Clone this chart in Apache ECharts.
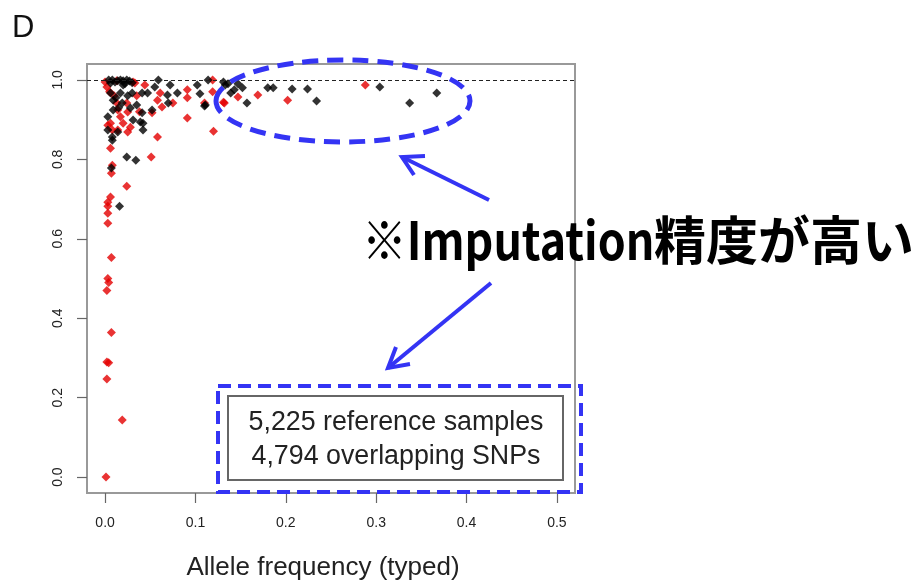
<!DOCTYPE html>
<html>
<head>
<meta charset="utf-8">
<script src="https://cdn.jsdelivr.net/npm/echarts@6/dist/echarts.min.js"></script>
<style>
  html, body { margin: 0; padding: 0; background: #fff; }
  #chart { width: 917px; height: 583px; }
</style>
</head>
<body>
<div id="chart"></div>
<script>
// Tick positions
const xTicks = [0, 0.1, 0.2, 0.3, 0.4, 0.5];
const yTicks = [0, 0.2, 0.4, 0.6, 0.8, 1.0];

// Imputation accuracy vs allele frequency (typed), two SNP groups
const redPoints = [
  [0.000,0.995],[0.013,0.998],[0.031,0.995],[0.119,1.000],[0.044,0.987],[0.033,0.992],[0.091,0.975],
  [0.005,0.970],[0.002,0.982],[0.010,0.960],[0.035,0.960],[0.061,0.967],
  [0.288,0.987],[0.119,0.970],[0.147,0.957],[0.169,0.962],[0.202,0.949],[0.132,0.942],[0.110,0.942],[0.131,0.944],
  [0.058,0.949],[0.091,0.955],[0.013,0.942],[0.024,0.942],[0.075,0.942],[0.063,0.932],[0.014,0.924],
  [0.025,0.919],[0.052,0.917],[0.038,0.920],
  [0.017,0.907],[0.020,0.891],[0.028,0.881],[0.091,0.904],[0.006,0.891],
  [0.003,0.886],[0.008,0.874],[0.014,0.874],[0.025,0.869],[0.120,0.871],
  [0.058,0.856],[0.006,0.828],[0.051,0.806],[0.008,0.785],[0.007,0.765],[0.024,0.732],[0.006,0.705],
  [0.003,0.692],[0.003,0.682],[0.003,0.664],[0.003,0.639],[0.007,0.553],[0.003,0.500],[0.004,0.490],
  [0.002,0.470],[0.007,0.364],[0.002,0.290],[0.004,0.288],[0.002,0.247],[0.019,0.144],[0.001,0.000]
];
const blackPoints = [
  [0.004,1.000],[0.008,1.000],[0.014,0.998],[0.017,1.000],[0.020,0.998],[0.024,1.000],[0.027,0.997],
  [0.006,0.992],[0.011,0.995],[0.022,0.990],[0.030,0.993],[0.059,1.000],[0.114,1.000],[0.131,0.995],
  [0.020,0.987],[0.055,0.982],[0.072,0.987],[0.102,0.987],[0.133,0.987],[0.136,0.990],[0.147,0.990],[0.143,0.975],
  [0.152,0.980],[0.180,0.980],[0.186,0.980],[0.207,0.977],[0.224,0.977],[0.304,0.982],[0.367,0.967],
  [0.337,0.942],[0.234,0.947],[0.157,0.942],[0.139,0.967],[0.105,0.965],[0.110,0.934],
  [0.006,0.967],[0.017,0.967],[0.030,0.967],[0.041,0.967],[0.047,0.967],[0.069,0.962],[0.080,0.967],
  [0.012,0.955],[0.025,0.960],
  [0.009,0.949],[0.019,0.942],[0.035,0.937],[0.070,0.942],[0.111,0.937],[0.052,0.924],[0.015,0.930],
  [0.009,0.924],[0.028,0.929],[0.041,0.917],
  [0.003,0.907],[0.031,0.899],[0.039,0.894],[0.042,0.891],
  [0.042,0.874],[0.003,0.874],[0.014,0.869],
  [0.008,0.856],[0.008,0.848],[0.024,0.806],[0.034,0.798],[0.007,0.778],[0.016,0.682]
];

const panelLetter = 'D';
const xTitle = 'Allele frequency (typed)';
const infoLines = ['5,225 reference samples', '4,794 overlapping SNPs'];
const calloutText = '※Imputation';
const calloutTextJa = '精度が高い';

const BLUE = '#3434f4';
const FONT = '"Liberation Sans", Arial, Helvetica, sans-serif';
const JFONT = '"Noto Sans CJK JP", "Noto Sans", sans-serif';

const chart = echarts.init(document.getElementById('chart'), null, { renderer: 'canvas' });

function arrow(tail, tip, head1, head2) {
  return [
    { type: 'line', shape: { x1: tail[0], y1: tail[1], x2: tip[0], y2: tip[1] },
      style: { stroke: BLUE, lineWidth: 4, lineCap: 'butt' }, z: 20 },
    { type: 'polyline', shape: { points: [head1, tip, head2] },
      style: { stroke: BLUE, lineWidth: 4, fill: null, lineJoin: 'miter' }, z: 20 }
  ];
}

const option = {
  animation: false,
  backgroundColor: '#fff',
  grid: {
    left: 87, right: 342, top: 64, bottom: 90,
    show: true, borderColor: '#999', borderWidth: 2, backgroundColor: 'transparent'
  },
  xAxis: {
    type: 'value', min: -0.02, max: 0.52,
    axisLine: { show: false, onZero: false },
    splitLine: { show: false },
    axisTick: { show: true, customValues: xTicks, length: 10, lineStyle: { color: '#666', width: 1.2 } },
    axisLabel: {
      customValues: xTicks, margin: 23, color: '#222', fontFamily: FONT, fontSize: 14,
      formatter: v => v.toFixed(1)
    }
  },
  yAxis: {
    type: 'value', min: -0.04, max: 1.04,
    axisLine: { show: false, onZero: false },
    splitLine: { show: false },
    axisTick: { show: true, customValues: yTicks, length: 10, lineStyle: { color: '#666', width: 1.2 } },
    axisLabel: {
      customValues: yTicks, margin: 22, rotate: 90, color: '#222', fontFamily: FONT, fontSize: 14,
      formatter: v => v.toFixed(1)
    }
  },
  series: [
    {
      type: 'scatter', data: redPoints, symbol: 'diamond', symbolSize: 9,
      itemStyle: { color: '#e30000' }, z: 3,
      markLine: {
        silent: true, symbol: 'none', label: { show: false },
        lineStyle: { color: '#222', type: [4, 3], width: 1 },
        data: [{ yAxis: 1 }]
      }
    },
    {
      type: 'scatter', data: blackPoints, symbol: 'diamond', symbolSize: 9,
      itemStyle: { color: '#000' }, z: 4
    }
  ],
  graphic: [
    { type: 'text', left: 12, top: 13, z: 10,
      style: { text: panelLetter, font: '31px ' + FONT, fill: '#111' } },
    { type: 'text', x: 323, y: 568, z: 10,
      style: { text: xTitle, font: '26px ' + FONT, fill: '#222', align: 'center', verticalAlign: 'middle' } },
    // info box
    { type: 'rect', shape: { x: 228, y: 396, width: 335, height: 84 },
      style: { fill: '#fff', stroke: '#666', lineWidth: 2 }, z: 10 },
    { type: 'text', x: 396, y: 423, z: 11,
      style: { text: infoLines[0], font: '26.8px ' + FONT, fill: '#222', align: 'center', verticalAlign: 'middle' } },
    { type: 'text', x: 396, y: 457, z: 11,
      style: { text: infoLines[1], font: '26.8px ' + FONT, fill: '#222', align: 'center', verticalAlign: 'middle' } },
    // highlight frames
    { type: 'rect', shape: { x: 218, y: 386, width: 363, height: 106 },
      style: { fill: null, stroke: BLUE, lineWidth: 4, lineDash: [13, 7] }, z: 12 },
    { type: 'ellipse', shape: { cx: 343, cy: 101, rx: 127, ry: 41 },
      style: { fill: null, stroke: BLUE, lineWidth: 5, lineDash: [16, 9] }, z: 12 },
    ...arrow([489, 200], [402, 157], [425, 156], [414, 175]),
    ...arrow([491, 283], [388, 368], [410, 364], [396, 347]),
    // callout
    { type: 'text', x: 362, y: 240, z: 15, scaleX: 0.86, originX: 0, originY: 0,
      style: { text: calloutText, font: 'bold 52px ' + JFONT, fill: '#000', align: 'left', verticalAlign: 'middle' } },
    { type: 'text', x: 654, y: 240, z: 15,
      style: { text: calloutTextJa, font: 'bold 52px ' + JFONT, fill: '#000', align: 'left', verticalAlign: 'middle' } }
  ]
};

chart.setOption(option);
</script>
</body>
</html>
